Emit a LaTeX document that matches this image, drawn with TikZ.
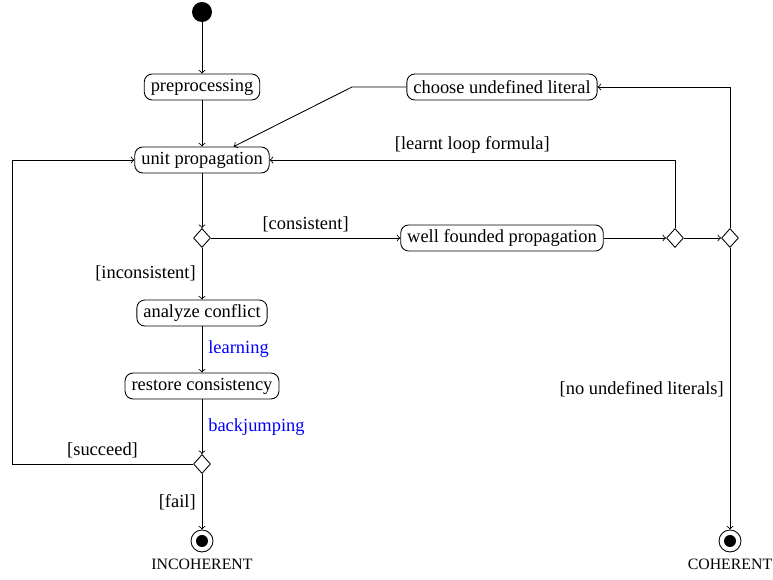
\documentclass[tikz,border=0pt]{standalone}
\usepackage{fontspec}
\setmainfont{Liberation Serif}
\usetikzlibrary{shapes.geometric}

\begin{document}
\begin{tikzpicture}[
		font=\fontsize{10.5}{12}\selectfont,
		line width=0.5pt,
		activity/.style={draw, rounded corners=0.16cm, minimum height=0.52cm, inner xsep=0.13cm, inner ysep=0},
		decision/.style={draw, diamond, minimum width=0.34cm, minimum height=0.38cm, inner sep=0},
		initial/.style={circle, fill=black, minimum size=0.4cm, inner sep=0},
		final/.style={circle, draw, minimum size=0.44cm, inner sep=0,
			path picture={\fill[black] (path picture bounding box.center) circle (0.12);}},
		endlabel/.style={font=\fontsize{9}{10}\selectfont},
		action/.style={text=blue}
	]
			%%%%% START %%%%%
			
			\useasboundingbox (0, 0) rectangle (15.46, 11.6);
			
			\node[initial] (start) at (4.04, 11.36) {};
			\node[activity] (prep) at (4.04, 9.86) {preprocessing};
			\node[activity] (unit) at (4.04, 8.4) {unit propagation};
			\node[activity] (choose) at (10.04, 9.86) {choose undefined literal};
			\coordinate (bend) at (7.04, 9.86);
			
			\node[decision] (d1) at (4.04, 6.84) {};
			\node[activity] (wfp) at (10.04, 6.84) {well founded propagation};
			\node[decision] (d2) at (13.5, 6.84) {};
			\node[decision] (d3) at (14.6, 6.84) {};
			
			\node[activity] (analyze) at (4.04, 5.34) {analyze conflict};
			\node[activity] (restore) at (4.04, 3.88) {restore consistency};
			\node[decision] (d4) at (4.04, 2.32) {};
			\coordinate (loop) at (0.24, 2.32);
			
			\node[final, label={[endlabel]below:INCOHERENT}] (incoh) at (4.04, 0.78) {};
			\node[final, label={[endlabel]below:COHERENT}] (coh) at (14.6, 0.78) {};
			
			% main line
			\draw[->] (start) -- (prep);
			\draw[->] (prep) -- (unit);
			\draw[->] (unit) -- (d1);
			\draw[->] (d1) -- node[above] {[consistent]} (wfp);
			\draw[->] (wfp) -- (d2);
			\draw[->] (d2) -- (d3);
			\draw[->] (d2) |- node[pos=0.75, above] {[learnt loop formula]} (unit);
			\draw[->] (d3) |- (choose);
			\draw[->] (choose) -- (bend) -- (unit.23);
			\draw[->] (d3) -- node[left] {[no undefined literals]} (coh);
			
			% conflict
			\draw[->] (d1) -- node[left] {[inconsistent]} (analyze);
			\draw[->] (analyze) -- node[right, action] {learning} (restore);
			\draw[->] (restore) -- node[right, action] {backjumping} (d4);
			\draw[->] (d4) -- node[above] {[succeed]} (loop) |- (unit);
			\draw[->] (d4) -- node[left] {[fail]} (incoh);
			
			%%%%% END %%%%%
\end{tikzpicture}
\end{document}
